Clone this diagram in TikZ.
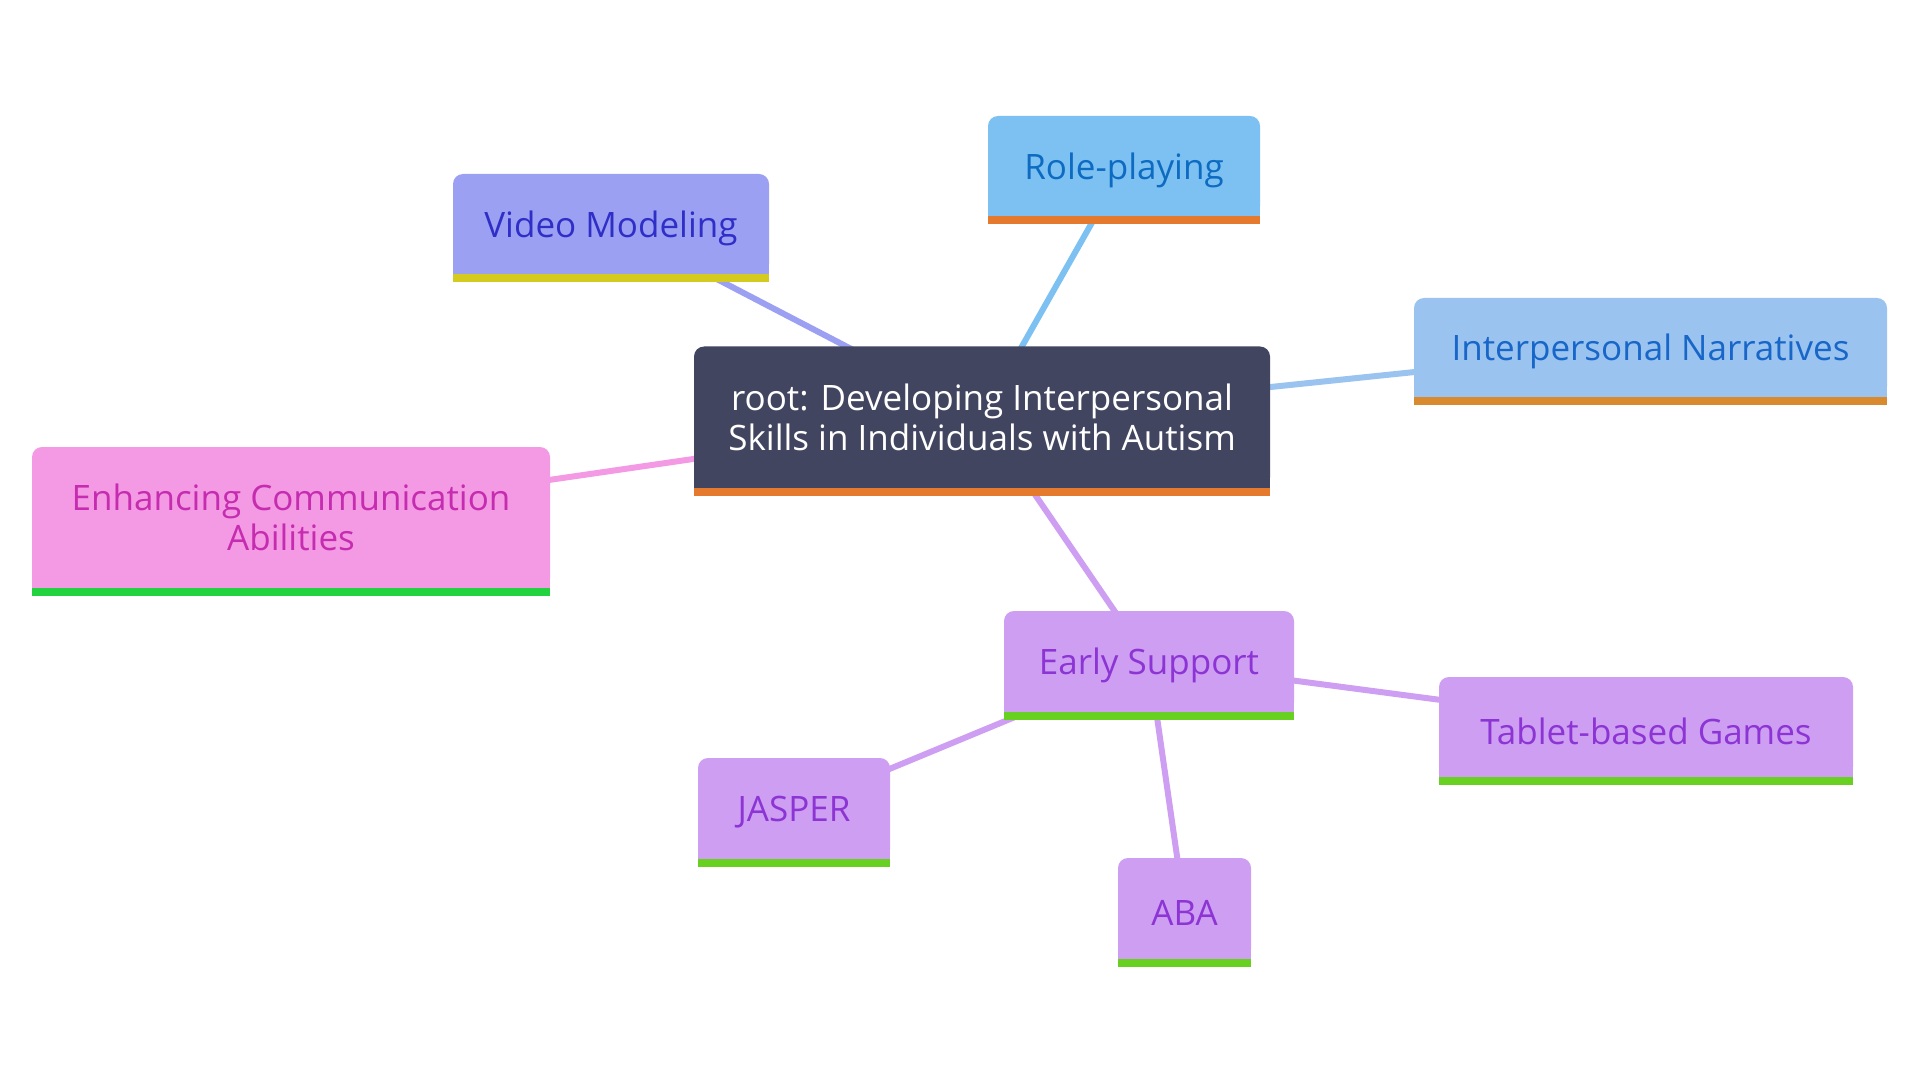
\documentclass[tikz,border=0pt]{standalone}
\usepackage{fontspec}
\setmainfont{Open Sans}
\usetikzlibrary{backgrounds}

\definecolor{rootfill}{HTML}{424560}
\definecolor{rootbar}{HTML}{E57A2E}
\definecolor{vidfill}{HTML}{9BA0F2}
\definecolor{vidtext}{HTML}{2F2FC8}
\definecolor{vidbar}{HTML}{D4CB1E}
\definecolor{rolefill}{HTML}{7DC0F2}
\definecolor{roletext}{HTML}{0D6BC1}
\definecolor{narrfill}{HTML}{9AC3EF}
\definecolor{narrtext}{HTML}{1766C8}
\definecolor{narrbar}{HTML}{D98A2E}
\definecolor{commfill}{HTML}{F49AE4}
\definecolor{commtext}{HTML}{C52CB0}
\definecolor{commbar}{HTML}{22D33F}
\definecolor{earlyfill}{HTML}{CE9EF2}
\definecolor{earlytext}{HTML}{8C34D4}
\definecolor{earlybar}{HTML}{67D020}

% box body with round top corners and a bar under it
\newcommand\mmbox[3]{%
  \fill[#2, rounded corners=5pt] (#1.south west) rectangle (#1.north east);
  \fill[#2] (#1.south west) rectangle (#1.east);
  \fill[#3] (#1.south west) rectangle ([yshift=-4pt]#1.south east);}
\newcommand\lowtxt[1]{\raisebox{-2pt}[\height][\depth]{#1}}

\begin{document}
\begin{tikzpicture}[x=0.5pt, y=-0.5pt,
    mmnode/.style={inner sep=0pt, outer sep=0pt, align=center,
      font=\fontsize{17.5}{20}\selectfont},
    link/.style={line width=3pt}]
  \useasboundingbox (0,0) rectangle (1920,1080);

  \node[mmnode, text=white, minimum width=288pt, minimum height=70.5pt] (root) at (982,417)
    {root: Developing Interpersonal\\Skills in Individuals with Autism};
  \node[mmnode, text=roletext, minimum width=136pt, minimum height=50pt] (role) at (1124,166) {\lowtxt{Role-playing}};
  \node[mmnode, text=vidtext, minimum width=158pt, minimum height=50pt] (video) at (611,224) {\lowtxt{Video Modeling}};
  \node[mmnode, text=narrtext, minimum width=236.5pt, minimum height=49.5pt] (narr) at (1650.5,347.5) {\lowtxt{Interpersonal Narratives}};
  \node[mmnode, text=commtext, minimum width=259pt, minimum height=70.5pt] (comm) at (291,517.5)
    {Enhancing Communication\\Abilities};
  \node[mmnode, text=earlytext, minimum width=145pt, minimum height=50.5pt] (early) at (1149,661.5) {\lowtxt{Early Support}};
  \node[mmnode, text=earlytext, minimum width=207pt, minimum height=50pt] (tablet) at (1646,727) {\lowtxt{Tablet-based Games}};
  \node[mmnode, text=earlytext, minimum width=96pt, minimum height=50.5pt] (jasper) at (794,808.5) {\lowtxt{JASPER}};
  \node[mmnode, text=earlytext, minimum width=66.5pt, minimum height=50.5pt] (aba) at (1184.5,908.5) {\lowtxt{ABA}};

  \begin{scope}[on background layer]
    \draw[link, vidfill] (root.center) -- (video.center);
    \draw[link, rolefill] (root.center) -- (role.center);
    \draw[link, narrfill] (root.center) -- (narr.center);
    \draw[link, commfill] (root.center) -- (comm.center);
    \draw[link, earlyfill] (root.center) -- (early.center);
    \draw[link, earlyfill] (early.center) -- (tablet.center);
    \draw[link, earlyfill] (early.center) -- (jasper.center);
    \draw[link, earlyfill] (early.center) -- (aba.center);

    \mmbox{root}{rootfill}{rootbar}
    \mmbox{role}{rolefill}{rootbar}
    \mmbox{video}{vidfill}{vidbar}
    \mmbox{narr}{narrfill}{narrbar}
    \mmbox{comm}{commfill}{commbar}
    \mmbox{early}{earlyfill}{earlybar}
    \mmbox{tablet}{earlyfill}{earlybar}
    \mmbox{jasper}{earlyfill}{earlybar}
    \mmbox{aba}{earlyfill}{earlybar}
  \end{scope}
\end{tikzpicture}
\end{document}
